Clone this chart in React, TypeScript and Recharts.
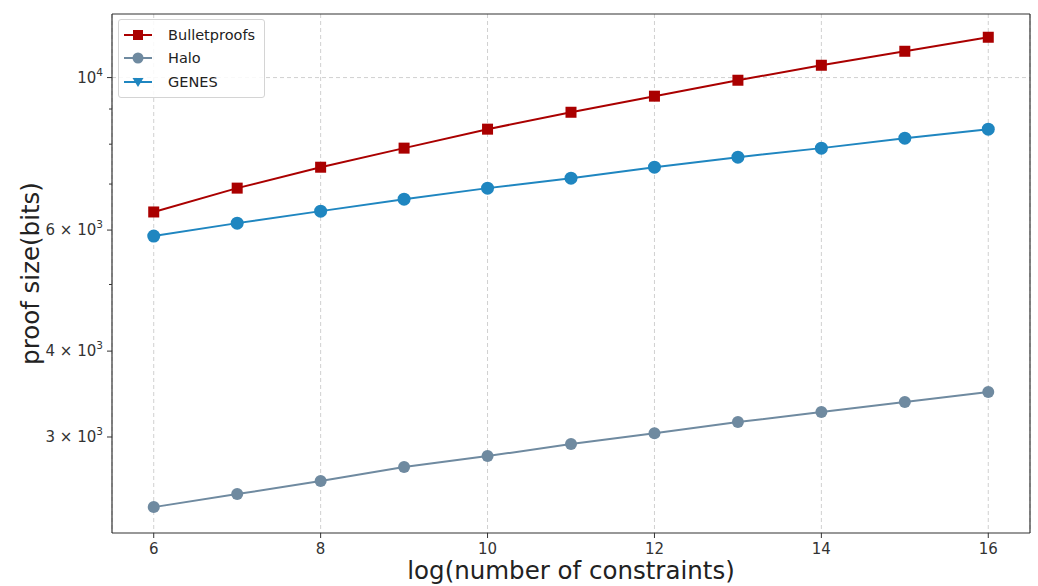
import { LineChart, Line, XAxis, YAxis, CartesianGrid, ReferenceLine, Legend, Label } from "recharts";

const constraints = [6, 7, 8, 9, 10, 11, 12, 13, 14, 15, 16];
const bulletproofs = [6375, 6905, 7406, 7895, 8413, 8903, 9396, 9911, 10421, 10921, 11446];
const halo = [2372, 2478, 2588, 2713, 2814, 2930, 3039, 3154, 3261, 3372, 3487];
const genes = [5881, 6141, 6393, 6655, 6905, 7139, 7406, 7660, 7895, 8163, 8413];

const xTicks = [6, 8, 10, 12, 14, 16];
const xDomain = [5.5, 16.5];
const yTicks = [3000, 4000, 5000, 6000, 7000, 8000, 9000, 10000];
const yDomain = [2175, 12373];
// mantissa, exponent for labelled ticks (others are minor ticks)
const yLabels: Record<number, [string, string]> = {
  3000: ["3", "3"],
  4000: ["4", "3"],
  6000: ["6", "3"],
  10000: ["", "4"],
};

const series = [
  { key: "bulletproofs", name: "Bulletproofs", color: "#aa0000", marker: "square" },
  { key: "halo", name: "Halo", color: "#6f8aa0", marker: "circle" },
  { key: "genes", name: "GENES", color: "#1f86c0", marker: "triangle" },
];

const data = constraints.map((c, i) => ({
  c,
  bulletproofs: bulletproofs[i],
  halo: halo[i],
  genes: genes[i],
}));

const font = "DejaVu Sans, sans-serif";
const axisColor = "#333";

function YTick(props: any) {
  const { x, y, payload } = props;
  const lab = yLabels[payload.value];
  const len = lab ? 5 : 3;
  return (
    <g>
      <line x1={x - len} x2={x} y1={y} y2={y} stroke={axisColor} strokeWidth={1} />
      {lab && (
        <text x={x - 9} y={y + 5} textAnchor="end" fontSize={15} fill={axisColor} fontFamily={font}>
          {lab[0] ? `${lab[0]} × 10` : "10"}
          <tspan dy={-7} fontSize={10.5}>
            {lab[1]}
          </tspan>
        </text>
      )}
    </g>
  );
}

function squareDot(color: string) {
  return (p: any) => (
    <rect key={`sq-${p.index}`} x={p.cx - 5.5} y={p.cy - 5.5} width={11} height={11} fill={color} />
  );
}

function renderLegend() {
  return (
    <div
      style={{
        border: "1px solid #d4d4d4",
        borderRadius: 3,
        background: "rgba(255,255,255,0.85)",
        padding: "3px 9px 3px 4px",
        fontFamily: font,
        fontSize: 14.5,
        color: "#222",
      }}
    >
      {series.map((s) => (
        <div key={s.key} style={{ display: "flex", alignItems: "center", height: 23.5 }}>
          <svg width={30} height={14} style={{ marginRight: 15 }}>
            <line x1={1} x2={29} y1={7} y2={7} stroke={s.color} strokeWidth={2} />
            {s.marker === "square" ? (
              <rect x={10} y={2} width={10} height={10} fill={s.color} />
            ) : s.marker === "triangle" ? (
              <path d="M9.5 3 L20.5 3 L15 12 Z" fill={s.color} />
            ) : (
              <circle cx={15} cy={7} r={5.5} fill={s.color} />
            )}
          </svg>
          <span>{s.name}</span>
        </div>
      ))}
    </div>
  );
}

export default function App() {
  return (
    <div style={{ position: "absolute", left: 0, top: 0, width: 1038, height: 586, background: "#fff" }}>
      <LineChart width={1038} height={586} data={data} margin={{ top: 14, right: 8, left: 0, bottom: 0 }}>
        <CartesianGrid vertical horizontal={false} stroke="#d0d0d0" strokeDasharray="4 3" />
        <ReferenceLine y={10000} stroke="#d0d0d0" strokeDasharray="4 3" />
        <ReferenceLine y={yDomain[1]} stroke={axisColor} strokeWidth={1.2} />
        <ReferenceLine x={xDomain[1]} stroke={axisColor} strokeWidth={1.2} />
        <XAxis
          dataKey="c"
          type="number"
          domain={xDomain}
          ticks={xTicks}
          height={53}
          tickSize={5}
          tickMargin={5}
          stroke={axisColor}
          tick={{ fontSize: 15, fill: axisColor, fontFamily: font }}
          axisLine={{ stroke: axisColor, strokeWidth: 1.2 }}
        >
          <Label
            content={(p: any) => (
              <text
                x={p.viewBox.x + p.viewBox.width / 2}
                y={579}
                textAnchor="middle"
                fontSize={24.5}
                fill="#222"
                fontFamily={font}
              >
                log(number of constraints)
              </text>
            )}
          />
        </XAxis>
        <YAxis
          scale="log"
          type="number"
          domain={yDomain}
          ticks={yTicks}
          allowDataOverflow
          width={112}
          tickSize={0}
          tickMargin={0}
          tickLine={false}
          tick={<YTick />}
          axisLine={{ stroke: axisColor, strokeWidth: 1.2 }}
        >
          <Label
            content={(p: any) => {
              const cx = 30;
              const cy = p.viewBox.y + p.viewBox.height / 2;
              return (
                <text
                  x={cx}
                  y={cy}
                  transform={`rotate(-90 ${cx} ${cy})`}
                  textAnchor="middle"
                  dominantBaseline="central"
                  fontSize={24.5}
                  fill="#222"
                  fontFamily={font}
                >
                  proof size(bits)
                </text>
              );
            }}
          />
        </YAxis>
        <Legend
          verticalAlign="middle"
          align="center"
          layout="vertical"
          wrapperStyle={{ left: 118, top: 19, width: "auto" }}
          content={renderLegend}
        />
        <Line
          dataKey="bulletproofs"
          name="Bulletproofs"
          stroke="#aa0000"
          strokeWidth={2}
          dot={squareDot("#aa0000")}
          isAnimationActive={false}
        />
        <Line
          dataKey="halo"
          name="Halo"
          stroke="#6f8aa0"
          strokeWidth={2}
          dot={{ r: 6, fill: "#6f8aa0", stroke: "none" }}
          isAnimationActive={false}
        />
        <Line
          dataKey="genes"
          name="GENES"
          stroke="#1f86c0"
          strokeWidth={2}
          dot={{ r: 6.5, fill: "#1f86c0", stroke: "none" }}
          isAnimationActive={false}
        />
      </LineChart>
    </div>
  );
}
